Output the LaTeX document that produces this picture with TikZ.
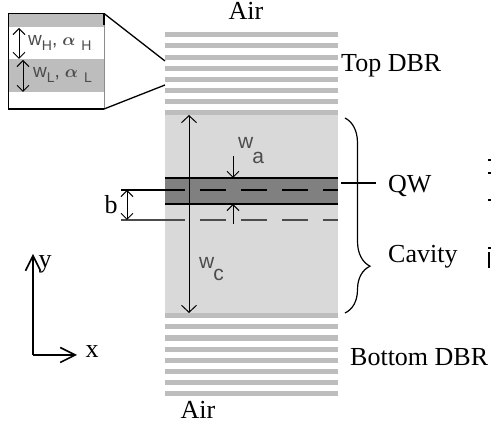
\documentclass[tikz,border=0pt]{standalone}
\usepackage{fontspec}
\setmainfont{Liberation Serif}
\setsansfont{Liberation Sans}
\usetikzlibrary{arrows,positioning,decorations.pathreplacing,arrows.meta}
\definecolor{barcol}{gray}{0.74}
\definecolor{cavcol}{gray}{0.85}
\definecolor{qwcol}{gray}{0.5}
\definecolor{dimcol}{gray}{0.3}
\newcommand{\dimtext}[2]{w\hspace{-1pt}\raisebox{-#2pt}{#1}}
\newcommand{\insettext}[1]{w\raisebox{-5pt}{\fontsize{14}{14}\selectfont #1},\hspace{5pt}{\boldmath$\alpha$}\hspace{6pt}\raisebox{-5pt}{\fontsize{14}{14}\selectfont #1}}
\tikzset{
	barfill/.style={fill=barcol,draw=none},
	bigarrow/.style={<->,>={Straight Barb[width=15pt,length=7pt]},color=black,line width=1pt},
	openarrow/.style={<->,>={Straight Barb[width=12pt,length=6pt]},color=black,line width=1pt},
	downarrow/.style={->,>={Straight Barb[width=12pt,length=6pt]},color=black,line width=1pt},
	axisarrow/.style={->,>={Straight Barb[width=15pt,length=15pt]},color=black,line width=1.6pt},
	toplabel/.style={font=\fontsize{26}{26}\selectfont,inner sep=0},
	dimlabel/.style={font=\sffamily\fontsize{21}{21}\selectfont,color=dimcol,inner sep=0},
	insetlabel/.style={font=\sffamily\fontsize{19}{19}\selectfont,color=dimcol,inner sep=0},
	dashline/.style={dash pattern=on 26pt off 15pt,line width=1.2pt}
}
\begin{document}
\begin{tikzpicture}[x=1pt,y=-1pt]
	\useasboundingbox (0,0) rectangle (491,425);
	%%%top and bottom mirrors
	\foreach \ytop in {32,43.5,55,66,77,88,99,110}
		\fill[barfill] (165,\ytop) rectangle (338,\ytop+5);
	\foreach \ytop in {324,335.5,347,358,369,380,391}
		\fill[barfill] (165,\ytop) rectangle (338,\ytop+5.5);

	%%%cavity
	\fill[cavcol] (165,115) rectangle (338,313);
	\fill[barfill] (165,313) rectangle (338,318.5);
	\fill[qwcol] (165,178) rectangle (338,204);
	\coordinate (qwtl) at (165,178);
	\coordinate (qwtr) at (338,178);
	\coordinate (qwbl) at (165,204);
	\coordinate (qwbr) at (338,204);
	\draw[line width=1.2pt] (qwtl) -- (qwtr) (qwbl) -- (qwbr);

	%%%reference lines and b
	\coordinate (b1) at (121,190);
	\coordinate (b2) at (121,220);
	\coordinate (b1m) at (185,190);
	\coordinate (b2m) at (185,220);
	\coordinate (b1d) at (200,190);
	\coordinate (b2d) at (200,220);
	\coordinate (b1r) at (338,190);
	\coordinate (b2r) at (338,220);
	\draw[line width=1.2pt] (b1) -- (b1m);
	\draw[line width=1.2pt,color=dimcol] (b2) -- (b2m);
	\draw[dashline] (b1d) -- (b1r);
	\draw[dashline,color=dimcol] (b2d) -- (b2r);
	\coordinate (bt) at (127,190);
	\coordinate (bb) at (127,220);
	\draw[openarrow] (bt) -- (bb);
	\node[toplabel,anchor=base] (blabel) at (111,214) {b};

	%%%w_c
	\coordinate (wct) at (189,115);
	\coordinate (wcb) at (189,313);
	\draw[bigarrow] (wct) -- (wcb);
	\node[dimlabel,anchor=base west] (wc) at (199,269) {\dimtext{c}{12}};

	%%%w_a
	\coordinate (wa1) at (233,156);
	\coordinate (wa2) at (233,178);
	\coordinate (wa3) at (233,224);
	\coordinate (wa4) at (233,204);
	\draw[downarrow] (wa1) -- (wa2);
	\draw[downarrow] (wa3) -- (wa4);
	\node[dimlabel,anchor=base west] (wa) at (238,149) {\dimtext{a}{15}};

	%%%brace and labels
	\draw[line width=1.2pt,decorate,decoration={brace,amplitude=25pt,aspect=0.76}] (345,118) -- (345,313);
	\node[toplabel,anchor=base west] (qw) at (388,193) {QW};
	\coordinate (qwl) at (341,183);
	\coordinate (qwr) at (376,183);
	\draw[line width=1.2pt] (qwl) -- (qwr);
	\node[toplabel,anchor=base west] (cav) at (388,263) {Cavity};
	\node[toplabel,anchor=base] (airtop) at (246,20) {Air};
	\node[toplabel,anchor=base west] (topdbr) at (341,72) {Top DBR};
	\node[toplabel,anchor=base west] (botdbr) at (350,366) {Bottom DBR};
	\node[toplabel,anchor=base] (airbot) at (198,419) {Air};

	%%%inset
	\fill[barfill] (9,14) rectangle (103.5,27.5);
	\fill[barfill] (9,59) rectangle (103.5,92);
	\draw[line width=1.3pt] (104,25) -- (104,13.5) -- (8.5,13.5) -- (8.5,109) -- (104,109);
	\draw[color=black!45,line width=.5pt] (104,25) -- (104,109);
	\coordinate (zt) at (104,13.5);
	\coordinate (zb) at (104,109);
	\coordinate (mt) at (165,61);
	\coordinate (mb) at (165,85);
	\draw[line width=1.3pt] (zt) -- (mt) (zb) -- (mb);
	\coordinate (ha) at (19,28);
	\coordinate (hb) at (19,59);
	\coordinate (la) at (23,60);
	\coordinate (lb) at (23,92);
	\draw[openarrow] (ha) -- (hb);
	\draw[openarrow] (la) -- (lb);
	\node[insetlabel,anchor=west] (wh) at (28,43) {\insettext{H}};
	\node[insetlabel,anchor=west] (wl) at (33,75) {\insettext{L}};

	%%%axes
	\coordinate (org) at (33,355);
	\coordinate (yend) at (33,254);
	\coordinate (xend) at (77,355);
	\draw[axisarrow] (org) -- (yend);
	\draw[axisarrow] (org) -- (xend);
	\node[toplabel,anchor=base] (ylabel) at (45,268) {y};
	\node[toplabel,anchor=base] (xlabel) at (92,358) {x};

	%%%cut off marks at the right edge
	\foreach \ymark in {160,173,200,248}
		\fill (488,\ymark-1) rectangle (491,\ymark+1);
	\fill (488,252) rectangle (490,268);
\end{tikzpicture}
\end{document}
